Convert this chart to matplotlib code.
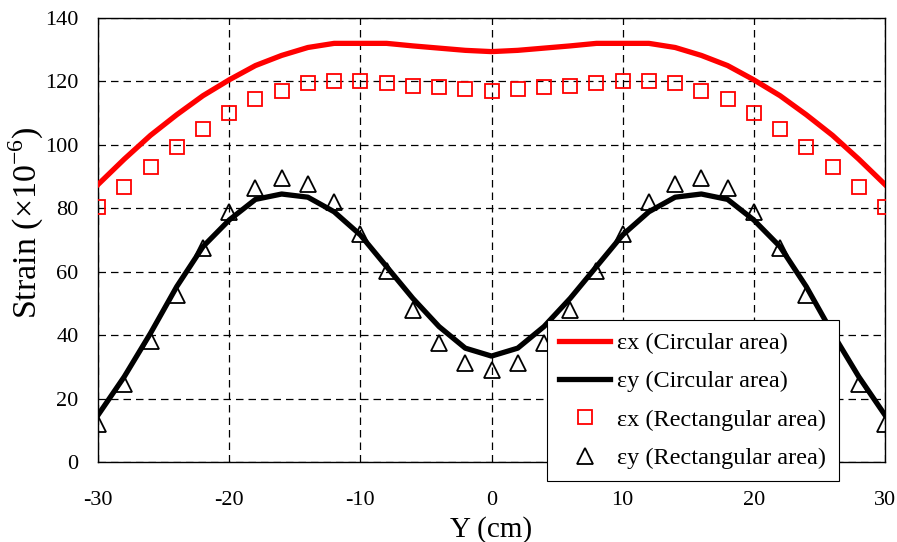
import numpy as np
import matplotlib.pyplot as plt

plt.rcParams['font.family'] = ['Liberation Serif', 'DejaVu Serif']
plt.rcParams['mathtext.fontset'] = 'custom'
plt.rcParams['mathtext.rm'] = 'Liberation Serif'
plt.rcParams['axes.unicode_minus'] = False

# positions along the section (cm)
y_pos = [-30, -28, -26, -24, -22, -20, -18, -16, -14, -12, -10, -8, -6, -4, -2,
         0, 2, 4, 6, 8, 10, 12, 14, 16, 18, 20, 22, 24, 26, 28, 30]

# circular loading area (lines)
ex_circ = [87.5, 95.5, 103.0, 109.5, 115.5, 120.5, 125.0, 128.2, 130.7, 132.0, 132.0,
           132.0, 131.2, 130.5, 129.8, 129.4, 129.8, 130.5, 131.2, 132.0, 132.0, 132.0,
           130.7, 128.2, 125.0, 120.5, 115.5, 109.5, 103.0, 95.5, 87.5]
ey_circ = [14.8, 26.9, 40.6, 55.3, 67.9, 76.3, 82.8, 84.5, 83.5, 78.9, 71.6, 61.6,
           51.6, 42.7, 35.9, 33.4, 35.9, 42.7, 51.6, 61.6, 71.6, 78.9, 83.5, 84.5,
           82.8, 76.3, 67.9, 55.3, 40.6, 26.9, 14.8]

# rectangular loading area (markers)
ex_rect = [80.3, 86.8, 93.1, 99.4, 105.0, 110.0, 114.5, 117.1, 119.6, 120.1, 120.1,
           119.6, 118.6, 118.2, 117.7, 117.1, 117.7, 118.2, 118.6, 119.6, 120.1, 120.1,
           119.6, 117.1, 114.5, 110.0, 105.0, 99.4, 93.1, 86.8, 80.3]
ey_rect = [12.1, 24.6, 38.3, 52.8, 67.4, 78.9, 86.3, 89.5, 87.7, 82.0, 71.9, 60.3,
           48.0, 37.6, 31.3, 28.9, 31.3, 37.6, 48.0, 60.3, 71.9, 82.0, 87.7, 89.5,
           86.3, 78.9, 67.4, 52.8, 38.3, 24.6, 12.1]

fig = plt.figure(figsize=(8.97, 5.42), dpi=100)
ax = fig.add_axes([0.1093, 0.1476, 0.8773, 0.8192])

ax.plot(y_pos, ex_circ, '-', color='#ff0000', lw=3.8, label='εx (Circular area)', zorder=3)
ax.plot(y_pos, ey_circ, '-', color='black', lw=3.8, label='εy (Circular area)', zorder=3)
ax.plot(y_pos, ex_rect, 's', ms=10, mfc='none', mec='#ff0000', mew=1.3,
        label='εx (Rectangular area)', zorder=4)
ax.plot(y_pos, ey_rect, '^', ms=12, mfc='none', mec='black', mew=1.3,
        label='εy (Rectangular area)', zorder=4)

ax.set_xlim(-30, 30)
ax.set_ylim(0, 140)
ax.set_xticks(np.arange(-30, 31, 10))
ax.set_yticks(np.arange(0, 141, 20))
ax.grid(True, color='black', linestyle=(0, (6, 4)), lw=0.9)
ax.tick_params(direction='in', length=0, labelsize=16)
ax.tick_params(axis='x', pad=21)
ax.tick_params(axis='y', pad=14)
for s in ax.spines.values():
    s.set_linewidth(1.0)

ax.set_xlabel('Y (cm)', fontsize=21, labelpad=4)
ax.set_ylabel('Strain (×10$^{-6}$)', fontsize=24.5)
ax.yaxis.set_label_coords(-0.066, 0.538)

leg = ax.legend(loc='upper left', bbox_to_anchor=(0.5705, 0.3198), borderaxespad=0,
                fontsize=17.5, frameon=True, fancybox=False, edgecolor='black',
                framealpha=1, handlelength=2.1, handletextpad=0.3, borderpad=0.5,
                labelspacing=0.67)
leg.get_frame().set_linewidth(0.8)
leg.set_zorder(10)

fig.savefig('out.png', dpi=100)
